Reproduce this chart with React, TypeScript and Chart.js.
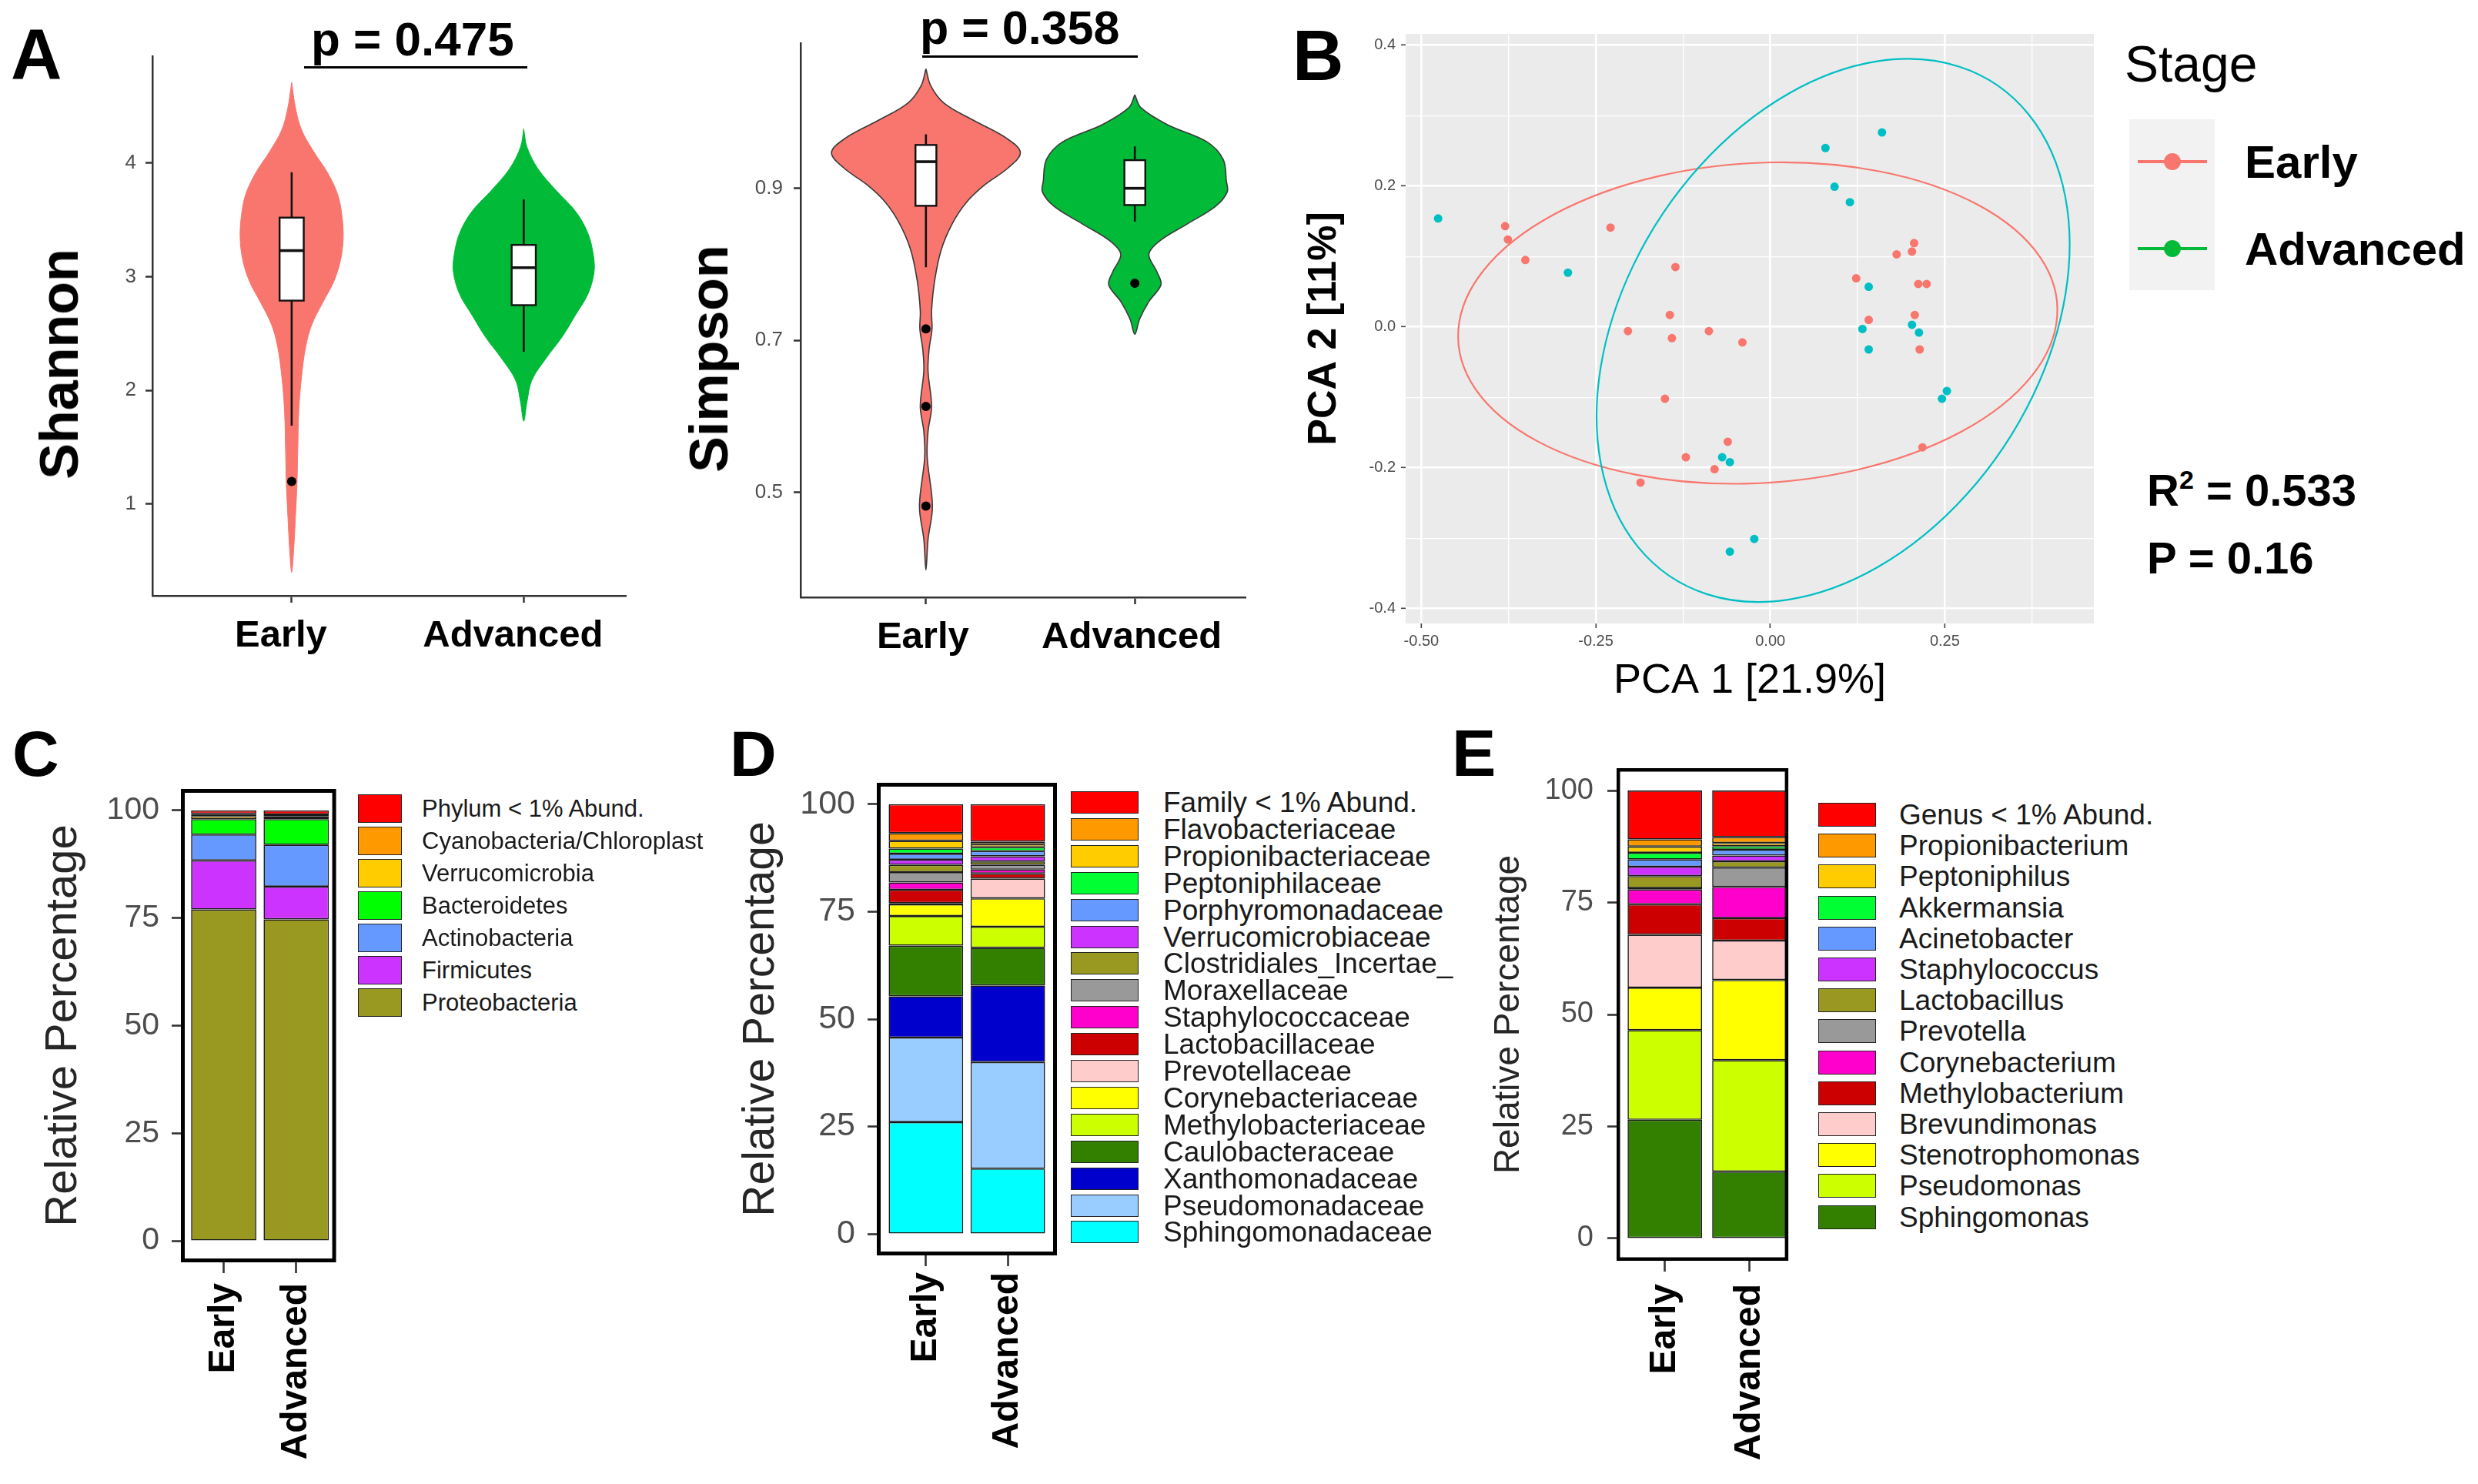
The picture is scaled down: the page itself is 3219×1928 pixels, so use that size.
import React, { useEffect, useRef } from 'react';
import { Chart, registerables } from 'chart.js';

Chart.register(...registerables);

const FONT = "'Liberation Sans', Arial, Helvetica, sans-serif";
Chart.defaults.font.family = FONT;

// ---------------- data: panel A ----------------
const groups = ['Early', 'Advanced'];
const groupColors = ['#F8766D', '#00BA38'];

const shannonEarlyY = [4.71, 4.48, 4.29, 4.1, 3.91, 3.72, 3.53, 3.34, 3.15, 2.96, 2.77, 2.58, 2.39, 2.13, 1.83, 1.45, 1.18, 0.88, 0.61, 0.4];
const shannonEarlyW = [0, 0.017, 0.043, 0.095, 0.156, 0.199, 0.217, 0.222, 0.211, 0.182, 0.133, 0.087, 0.061, 0.043, 0.031, 0.026, 0.023, 0.016, 0.009, 0];
const shannonAdvY = [4.3, 4.14, 3.95, 3.76, 3.57, 3.38, 3.19, 3.04, 2.85, 2.66, 2.47, 2.28, 2.09, 1.9, 1.73];
const shannonAdvW = [0, 0.014, 0.061, 0.139, 0.225, 0.277, 0.3, 0.303, 0.277, 0.222, 0.165, 0.095, 0.035, 0.014, 0];
const shannonWhiskerLow = [1.69, 2.34];
const shannonQ1 = [2.79, 2.75];
const shannonMedian = [3.23, 3.08];
const shannonQ3 = [3.52, 3.28];
const shannonWhiskerHigh = [3.92, 3.68];
const shannonOutliers = [[1.2], []];
const shannonTicks = [1, 2, 3, 4];

const simpsonEarlyY = [1.057, 1.035, 1.012, 0.989, 0.966, 0.947, 0.927, 0.904, 0.881, 0.853, 0.819, 0.779, 0.739, 0.715, 0.688, 0.66, 0.613, 0.58, 0.546, 0.482, 0.438, 0.398];
const simpsonEarlyW = [0, 0.023, 0.087, 0.231, 0.385, 0.452, 0.394, 0.279, 0.192, 0.125, 0.073, 0.042, 0.027, 0.029, 0.015, 0.01, 0.027, 0.01, 0.006, 0.031, 0.01, 0];
const simpsonAdvY = [1.023, 1.006, 0.984, 0.961, 0.938, 0.91, 0.895, 0.876, 0.853, 0.83, 0.813, 0.79, 0.773, 0.751, 0.728, 0.708];
const simpsonAdvW = [0, 0.029, 0.154, 0.346, 0.423, 0.438, 0.442, 0.385, 0.25, 0.115, 0.067, 0.106, 0.125, 0.067, 0.023, 0];
const simpsonWhiskerLow = [0.796, 0.856];
const simpsonQ1 = [0.877, 0.878];
const simpsonMedian = [0.935, 0.9];
const simpsonQ3 = [0.957, 0.937];
const simpsonWhiskerHigh = [0.971, 0.955];
const simpsonOutliers = [[0.715, 0.613, 0.482], [0.775]];
const simpsonTicks = [0.5, 0.7, 0.9];

// ---------------- data: panel B ----------------
const pcaEarlyX = [-0.38, -0.376, -0.351, -0.229, -0.136, -0.144, -0.204, -0.141, -0.088, -0.04, -0.151, -0.121, -0.061, -0.08, -0.186, 0.123, 0.141, 0.181, 0.203, 0.206, 0.212, 0.224, 0.207, 0.214, 0.218];
const pcaEarlyY = [0.143, 0.124, 0.095, 0.141, 0.085, 0.017, -0.006, -0.016, -0.006, -0.022, -0.102, -0.185, -0.163, -0.202, -0.221, 0.069, 0.01, 0.103, 0.107, 0.119, 0.061, 0.061, 0.017, -0.032, -0.171];
const pcaAdvX = [-0.476, -0.29, 0.079, 0.16, 0.092, 0.114, 0.141, 0.132, 0.141, 0.203, 0.213, 0.246, 0.253, -0.069, -0.058, -0.023, -0.058];
const pcaAdvY = [0.154, 0.077, 0.254, 0.276, 0.199, 0.177, 0.057, -0.003, -0.032, 0.003, -0.008, -0.102, -0.091, -0.185, -0.192, -0.301, -0.319];
const pcaColors = ['#F8766D', '#00BFC4'];
const stageLegendColors = ['#F8766D', '#00BA38'];
// confidence ellipses: centre and two conjugate semi-axes (data units)
const ellipseCX = [-0.018, 0.09];
const ellipseCY = [0.0055, -0.005];
const ellipseU = [[0.429, 0.0095], [0.063, 0.382]];
const ellipseV = [[0.017, 0.228], [0.333, 0.052]];
const pcaXMajor = [-0.5, -0.25, 0, 0.25];
const pcaXMinor = [-0.375, -0.125, 0.125, 0.375];
const pcaYMajor = [-0.4, -0.2, 0, 0.2, 0.4];
const pcaYMinor = [-0.3, -0.1, 0.1, 0.3];

// ---------------- data: panels C, D, E (legend order, top of stack first) ----------------
const phylumTaxa = ['Phylum < 1% Abund.', 'Cyanobacteria/Chloroplast', 'Verrucomicrobia', 'Bacteroidetes', 'Actinobacteria', 'Firmicutes', 'Proteobacteria'];
const phylumEarly = [0.8, 0.5, 0.7, 3.6, 6.0, 11.4, 77.0];
const phylumAdvanced = [0.9, 0.5, 0.6, 6.0, 9.7, 7.6, 74.7];
const phylumColors = ['#FF0000', '#FF9900', '#FFCC00', '#00FF00', '#6699FF', '#CC33FF', '#999922'];

const familyTaxa = ['Family < 1% Abund.', 'Flavobacteriaceae', 'Propionibacteriaceae', 'Peptoniphilaceae', 'Porphyromonadaceae', 'Verrucomicrobiaceae', 'Clostridiales_Incertae_', 'Moraxellaceae', 'Staphylococcaceae', 'Lactobacillaceae', 'Prevotellaceae', 'Corynebacteriaceae', 'Methylobacteriaceae', 'Caulobacteraceae', 'Xanthomonadaceae', 'Pseudomonadaceae', 'Sphingomonadaceae'];
const familyEarly = [6.7, 1.8, 1.8, 1.2, 1.4, 1.2, 1.7, 2.4, 1.7, 3.1, 0.3, 2.7, 6.9, 11.8, 9.6, 19.7, 26.0];
const familyAdvanced = [8.7, 0.6, 0.7, 0.9, 1.2, 1.2, 0.8, 1.1, 0.9, 1.2, 4.6, 6.6, 4.9, 8.8, 17.8, 24.8, 15.2];
const familyColors = ['#FF0000', '#FF9900', '#FFCC00', '#00FF33', '#6699FF', '#CC33FF', '#999922', '#999999', '#FF00CC', '#CC0000', '#FFCCCC', '#FFFF00', '#CCFF00', '#338000', '#0000CC', '#99CCFF', '#00FFFF'];

const genusTaxa = ['Genus < 1% Abund.', 'Propionibacterium', 'Peptoniphilus', 'Akkermansia', 'Acinetobacter', 'Staphylococcus', 'Lactobacillus', 'Prevotella', 'Corynebacterium', 'Methylobacterium', 'Brevundimonas', 'Stenotrophomonas', 'Pseudomonas', 'Sphingomonas'];
const genusEarly = [10.9, 1.6, 1.4, 1.5, 1.6, 2.1, 2.7, 0.3, 3.3, 6.8, 11.8, 9.5, 20.0, 26.5];
const genusAdvanced = [10.4, 1.3, 0.7, 0.8, 1.3, 1.3, 1.4, 4.3, 7.0, 5.0, 8.8, 17.9, 24.9, 14.9];
const genusColors = ['#FF0000', '#FF9900', '#FFCC00', '#00FF33', '#6699FF', '#CC33FF', '#999922', '#999999', '#FF00CC', '#CC0000', '#FFCCCC', '#FFFF00', '#CCFF00', '#338000'];

const percentTicks = [0, 25, 50, 75, 100];

// ---------------- helpers ----------------
function violinPath(center: number, ys: number[], ws: number[]) {
  const pts = ys.map((y, i) => ({ x: center + ws[i], y }));
  for (let i = ys.length - 2; i >= 1; i--) pts.push({ x: center - ws[i], y: ys[i] });
  pts.push({ x: center + ws[0], y: ys[0] });
  return pts;
}

function ChartBox({ left, top, width, height, config }: any) {
  const ref = useRef<HTMLCanvasElement | null>(null);
  useEffect(() => {
    if (!ref.current) return;
    const chart = new Chart(ref.current, config());
    return () => chart.destroy();
  }, []);
  return (
    <canvas
      ref={ref}
      width={width}
      height={height}
      style={{ position: 'absolute', left, top, width, height }}
    />
  );
}

function violinConfig(s: any) {
  const outlierData = s.outliers.flatMap((arr: number[], i: number) => arr.map((v) => ({ x: i + 1, y: v })));
  const datasets: any[] = [
    { data: outlierData, pointRadius: 6, pointHoverRadius: 6, backgroundColor: '#000', borderWidth: 0 },
  ];
  s.ys.forEach((ys: number[], i: number) => {
    datasets.push({
      data: violinPath(i + 1, ys, s.ws[i]),
      showLine: true,
      fill: 'shape',
      backgroundColor: groupColors[i],
      borderColor: s.outline || groupColors[i],
      borderWidth: s.outline ? 1.6 : 1,
      tension: 0.35,
      pointRadius: 0,
      pointHoverRadius: 0,
    });
  });
  const boxPlugin = {
    id: 'boxes',
    afterDatasetsDraw(chart: any) {
      const { ctx, scales } = chart;
      const x = scales.x;
      const y = scales.y;
      ctx.save();
      ctx.strokeStyle = '#111';
      s.q1.forEach((q1: number, i: number) => {
        const cx = x.getPixelForValue(i + 1);
        const xl = x.getPixelForValue(i + 1 - s.boxHalf);
        const xr = x.getPixelForValue(i + 1 + s.boxHalf);
        const yq1 = y.getPixelForValue(q1);
        const yq3 = y.getPixelForValue(s.q3[i]);
        ctx.lineWidth = 2.6;
        ctx.beginPath();
        ctx.moveTo(cx, y.getPixelForValue(s.hi[i]));
        ctx.lineTo(cx, yq3);
        ctx.moveTo(cx, yq1);
        ctx.lineTo(cx, y.getPixelForValue(s.lo[i]));
        ctx.stroke();
        ctx.fillStyle = '#fff';
        ctx.fillRect(xl, yq3, xr - xl, yq1 - yq3);
        ctx.lineWidth = 2.4;
        ctx.strokeRect(xl, yq3, xr - xl, yq1 - yq3);
        ctx.lineWidth = 3.6;
        const ym = y.getPixelForValue(s.med[i]);
        ctx.beginPath();
        ctx.moveTo(xl, ym);
        ctx.lineTo(xr, ym);
        ctx.stroke();
      });
      ctx.restore();
    },
  };
  return {
    type: 'scatter',
    data: { datasets },
    options: {
      animation: false,
      responsive: false,
      devicePixelRatio: 1,
      events: [],
      layout: { padding: { top: s.pad.top, right: s.pad.right, left: 0, bottom: 0 } },
      plugins: { legend: { display: false }, tooltip: { enabled: false } },
      scales: {
        x: {
          type: 'linear',
          min: s.xMin,
          max: s.xMax,
          afterFit: (sc: any) => { sc.height = s.xHeight; },
          afterBuildTicks: (sc: any) => { sc.ticks = [1, 2].map((v) => ({ value: v })); },
          ticks: {
            autoSkip: false,
            maxRotation: 0,
            callback: (v: number) => groups[v - 1] ?? '',
            font: { size: 49, weight: 'bold' },
            color: '#000',
            padding: s.xPadding,
            labelOffset: s.labelOffset,
          },
          grid: { drawOnChartArea: false, tickLength: 9, tickColor: '#333', tickWidth: 2.5 },
          border: { display: true, color: '#333', width: 2.5 },
        },
        y: {
          type: 'linear',
          min: s.yMin,
          max: s.yMax,
          afterFit: (sc: any) => { sc.width = s.yWidth; },
          afterBuildTicks: (sc: any) => { sc.ticks = s.yTicks.map((v: number) => ({ value: v })); },
          ticks: {
            callback: (v: number) => v.toFixed(s.yDecimals),
            font: { size: 26 },
            color: '#4D4D4D',
            padding: s.yPadding,
          },
          grid: { drawOnChartArea: false, tickLength: 9, tickColor: '#333', tickWidth: 2.5 },
          border: { display: true, color: '#333', width: 2.5 },
        },
      },
    },
    plugins: [boxPlugin],
  };
}

const shannonSpec = {
  ys: [shannonEarlyY, shannonAdvY], ws: [shannonEarlyW, shannonAdvW], outline: null,
  lo: shannonWhiskerLow, q1: shannonQ1, med: shannonMedian, q3: shannonQ3, hi: shannonWhiskerHigh, outliers: shannonOutliers,
  boxHalf: 0.052, xMin: 0.4, xMax: 2.44, yMin: 0.194, yMax: 4.94, yTicks: shannonTicks, yDecimals: 0,
  pad: { top: 73, right: 17 }, yWidth: 198, xHeight: 106, labelOffset: -14, xPadding: 14, yPadding: 12,
};
const simpsonSpec = {
  ys: [simpsonEarlyY, simpsonAdvY], ws: [simpsonEarlyW, simpsonAdvW], outline: '#3a3a3a',
  lo: simpsonWhiskerLow, q1: simpsonQ1, med: simpsonMedian, q3: simpsonQ3, hi: simpsonWhiskerHigh, outliers: simpsonOutliers,
  boxHalf: 0.05, xMin: 0.4, xMax: 2.53, yMin: 0.362, yMax: 1.091, yTicks: simpsonTicks, yDecimals: 1,
  pad: { top: 56, right: 12 }, yWidth: 210, xHeight: 104, labelOffset: -4, xPadding: 14, yPadding: 14,
};

function pcaConfig() {
  const isMajorX = (v: number) => pcaXMajor.some((m) => Math.abs(m - v) < 1e-9);
  const isMajorY = (v: number) => pcaYMajor.some((m) => Math.abs(m - v) < 1e-9);
  const bgPlugin = {
    id: 'panelBg',
    beforeDraw(chart: any) {
      const { ctx, chartArea: a } = chart;
      ctx.save();
      ctx.fillStyle = '#EBEBEB';
      ctx.fillRect(a.left, a.top, a.right - a.left, a.bottom - a.top);
      ctx.restore();
    },
    beforeDatasetsDraw(chart: any) {
      const { ctx, scales: { x, y } } = chart;
      ctx.save();
      ellipseCX.forEach((cxv, i) => {
        const cx = x.getPixelForValue(cxv);
        const cy = y.getPixelForValue(ellipseCY[i]);
        const ux = x.getPixelForValue(cxv + ellipseU[i][0]) - cx;
        const uy = y.getPixelForValue(ellipseCY[i] + ellipseU[i][1]) - cy;
        const vx = x.getPixelForValue(cxv + ellipseV[i][0]) - cx;
        const vy = y.getPixelForValue(ellipseCY[i] + ellipseV[i][1]) - cy;
        ctx.save();
        ctx.transform(ux, uy, vx, vy, cx, cy);
        ctx.beginPath();
        ctx.arc(0, 0, 1, 0, Math.PI * 2);
        ctx.restore();
        ctx.strokeStyle = pcaColors[i];
        ctx.lineWidth = 2.2;
        ctx.stroke();
      });
      ctx.restore();
    },
  };
  const mk = (xs: number[], ys: number[]) => xs.map((v, i) => ({ x: v, y: ys[i] }));
  return {
    type: 'scatter',
    data: {
      datasets: [
        { label: 'Early', data: mk(pcaEarlyX, pcaEarlyY), backgroundColor: pcaColors[0], borderWidth: 0, pointRadius: 5.5 },
        { label: 'Advanced', data: mk(pcaAdvX, pcaAdvY), backgroundColor: pcaColors[1], borderWidth: 0, pointRadius: 5.5 },
      ],
    },
    options: {
      animation: false,
      responsive: false,
      devicePixelRatio: 1,
      events: [],
      layout: { padding: { top: 44, right: 30, left: 0, bottom: 0 } },
      plugins: { legend: { display: false }, tooltip: { enabled: false } },
      scales: {
        x: {
          type: 'linear',
          min: -0.5225,
          max: 0.4636,
          afterFit: (sc: any) => { sc.height = 110; },
          afterBuildTicks: (sc: any) => { sc.ticks = [...pcaXMajor, ...pcaXMinor].sort((a, b) => a - b).map((v) => ({ value: v })); },
          ticks: {
            autoSkip: false,
            maxRotation: 0,
            callback: (v: number) => (isMajorX(v) ? v.toFixed(2) : ''),
            font: { size: 20 },
            color: '#4D4D4D',
            padding: 5,
          },
          grid: {
            color: '#FFFFFF',
            lineWidth: (c: any) => (c.tick && isMajorX(c.tick.value) ? 2.6 : 1.3),
            tickColor: (c: any) => (c.tick && isMajorX(c.tick.value) ? '#444' : 'rgba(0,0,0,0)'),
            tickLength: 6,
            tickWidth: 1.6,
          },
          border: { display: false },
          title: { display: true, text: 'PCA 1 [21.9%]', font: { size: 54 }, color: '#000', padding: { top: 0, bottom: 2 } },
        },
        y: {
          type: 'linear',
          min: -0.421,
          max: 0.416,
          afterFit: (sc: any) => { sc.width = 186; },
          afterBuildTicks: (sc: any) => { sc.ticks = [...pcaYMajor, ...pcaYMinor].sort((a, b) => a - b).map((v) => ({ value: v })); },
          ticks: {
            autoSkip: false,
            callback: (v: number) => (isMajorY(v) ? v.toFixed(1) : ''),
            font: { size: 20 },
            color: '#4D4D4D',
            padding: 7,
          },
          grid: {
            color: '#FFFFFF',
            lineWidth: (c: any) => (c.tick && isMajorY(c.tick.value) ? 2.6 : 1.3),
            tickColor: (c: any) => (c.tick && isMajorY(c.tick.value) ? '#444' : 'rgba(0,0,0,0)'),
            tickLength: 6,
            tickWidth: 1.6,
          },
          border: { display: false },
          title: { display: true, text: 'PCA 2 [11%]', font: { size: 52, weight: 'bold' }, color: '#000', padding: { top: 49, bottom: 0 } },
        },
      },
    },
    plugins: [bgPlugin],
  };
}

function barConfig(b: any) {
  const datasets: any[] = [];
  for (let i = b.taxa.length - 1; i >= 0; i--) {
    datasets.push({
      label: b.taxa[i],
      data: [{ x: 1, y: b.early[i] }, { x: 2, y: b.adv[i] }],
      backgroundColor: b.colors[i],
      borderColor: '#1a1a1a',
      borderWidth: 1.6,
      borderSkipped: false,
      barPercentage: b.barFrac,
      categoryPercentage: 1,
    });
  }
  const frame = {
    id: 'frame',
    afterDatasetsDraw(chart: any) {
      const { ctx, chartArea: a } = chart;
      ctx.save();
      ctx.strokeStyle = '#000';
      ctx.lineWidth = b.frameWidth;
      const h = b.frameWidth / 2;
      ctx.strokeRect(a.left + h, a.top + h, a.right - a.left - 2 * h, a.bottom - a.top - 2 * h);
      ctx.restore();
    },
  };
  return {
    type: 'bar',
    data: { datasets },
    options: {
      animation: false,
      responsive: false,
      devicePixelRatio: 1,
      events: [],
      layout: { padding: { top: b.padTop, right: b.padRight, left: 0, bottom: 0 } },
      plugins: { legend: { display: false }, tooltip: { enabled: false } },
      scales: {
        x: {
          type: 'linear',
          stacked: true,
          offset: false,
          min: b.xMin,
          max: b.xMax,
          afterFit: (sc: any) => { sc.height = b.xHeight; },
          afterBuildTicks: (sc: any) => { sc.ticks = [1, 2].map((v) => ({ value: v })); },
          ticks: {
            autoSkip: false,
            minRotation: 90,
            maxRotation: 90,
            callback: (v: number) => groups[v - 1] ?? '',
            font: { size: 48, weight: 'bold' },
            color: '#000',
            padding: b.xPadding,
          },
          grid: { offset: false, drawOnChartArea: false, tickLength: 14, tickColor: '#333', tickWidth: 2.6 },
          border: { display: false },
        },
        y: {
          type: 'linear',
          stacked: true,
          min: -5,
          max: 105,
          afterFit: (sc: any) => { sc.width = b.yWidth; },
          afterBuildTicks: (sc: any) => { sc.ticks = percentTicks.map((v) => ({ value: v })); },
          ticks: { font: { size: b.tickSize }, color: '#4D4D4D', padding: b.yPadding },
          grid: { drawOnChartArea: false, tickLength: 12, tickColor: '#333', tickWidth: 2.6 },
          border: { display: false },
          title: {
            display: true,
            text: 'Relative Percentage',
            font: { size: b.titleSize },
            color: '#262626',
            padding: { top: b.titlePad, bottom: 0 },
          },
        },
      },
    },
    plugins: [frame],
  };
}

const phylumSpec = {
  taxa: phylumTaxa, early: phylumEarly, adv: phylumAdvanced, colors: phylumColors,
  xMin: 0.41, xMax: 2.55, barFrac: 0.9, padTop: 125, padRight: 18, yWidth: 235, xHeight: 288,
  xPadding: 13, yPadding: 16, tickSize: 41, titleSize: 58, titlePad: 48, frameWidth: 5,
};
const familySpec = {
  taxa: familyTaxa, early: familyEarly, adv: familyAdvanced, colors: familyColors,
  xMin: 0.4, xMax: 2.6, barFrac: 0.91, padTop: 117, padRight: 7, yWidth: 239, xHeight: 297,
  xPadding: 8, yPadding: 16, tickSize: 43, titleSize: 57, titlePad: 55, frameWidth: 5,
};
const genusSpec = {
  taxa: genusTaxa, early: genusEarly, adv: genusAdvanced, colors: genusColors,
  xMin: 0.43, xMax: 2.46, barFrac: 0.88, padTop: 98, padRight: 17, yWidth: 220, xHeight: 290,
  xPadding: 16, yPadding: 18, tickSize: 38, titleSize: 46, titlePad: 53, frameWidth: 4.5,
};

// ---------------- HTML text helpers ----------------
function Txt({ x, y, size, bold, children, color = '#000' }: any) {
  return (
    <div
      style={{
        position: 'absolute', left: x, top: y, fontSize: size, lineHeight: `${size}px`,
        fontWeight: bold ? 700 : 400, fontFamily: FONT, color, whiteSpace: 'nowrap',
      }}
    >
      {children}
    </div>
  );
}

function VTxt({ cx, cy, size, bold, children }: any) {
  return (
    <div
      style={{
        position: 'absolute', left: cx, top: cy, fontSize: size, lineHeight: `${size}px`,
        fontWeight: bold ? 700 : 400, fontFamily: FONT, color: '#000', whiteSpace: 'nowrap',
        transform: 'translate(-50%, -50%) rotate(-90deg)',
      }}
    >
      {children}
    </div>
  );
}

function BarLegend({ taxa, colors, kx, ky, kw, kh, sp, tx, size }: any) {
  return (
    <>
      {taxa.map((t: string, i: number) => {
        const top = ky + i * sp;
        return (
          <React.Fragment key={t}>
            <div
              style={{
                position: 'absolute', left: kx, top, width: kw, height: kh, background: colors[i],
                border: '1.5px solid #222', boxSizing: 'border-box',
              }}
            />
            <div
              style={{
                position: 'absolute', left: tx, top: top + kh / 2 - size / 2, fontSize: size,
                lineHeight: `${size}px`, fontFamily: FONT, color: '#1a1a1a', whiteSpace: 'nowrap',
              }}
            >
              {t}
            </div>
          </React.Fragment>
        );
      })}
    </>
  );
}

export default function App() {
  const stageRowsY = [210, 323];
  return (
    <div style={{ position: 'fixed', left: 0, top: 0, width: 3219, height: 1928, background: '#fff', overflow: 'hidden' }}>
      <ChartBox left={0} top={0} width={830} height={880} config={() => violinConfig(shannonSpec)} />
      <ChartBox left={830} top={0} width={800} height={880} config={() => violinConfig(simpsonSpec)} />
      <ChartBox left={1640} top={0} width={1110} height={920} config={pcaConfig} />
      <ChartBox left={0} top={900} width={460} height={1028} config={() => barConfig(phylumSpec)} />
      <ChartBox left={900} top={900} width={480} height={1028} config={() => barConfig(familySpec)} />
      <ChartBox left={1880} top={900} width={470} height={1028} config={() => barConfig(genusSpec)} />

      {/* panel letters */}
      <Txt x={14} y={24} size={92} bold>A</Txt>
      <Txt x={1679} y={26} size={92} bold>B</Txt>
      <Txt x={16} y={937} size={84} bold>C</Txt>
      <Txt x={948} y={937} size={84} bold>D</Txt>
      <Txt x={1886} y={935} size={86} bold>E</Txt>

      {/* panel A annotations */}
      <VTxt cx={77} cy={473} size={70} bold>Shannon</VTxt>
      <VTxt cx={921} cy={466} size={70} bold>Simpson</VTxt>
      <Txt x={404} y={20} size={62} bold>p = 0.475</Txt>
      <div style={{ position: 'absolute', left: 395, top: 86, width: 290, height: 2.5, background: '#000' }} />
      <Txt x={1195} y={6} size={61} bold>p = 0.358</Txt>
      <div style={{ position: 'absolute', left: 1198, top: 72, width: 280, height: 2.5, background: '#000' }} />

      {/* panel B legend and statistics */}
      <Txt x={2760} y={50} size={66}>Stage</Txt>
      <div style={{ position: 'absolute', left: 2766, top: 155, width: 111, height: 222, background: '#F2F2F2' }} />
      {groups.map((g, i) => (
        <React.Fragment key={g}>
          <div style={{ position: 'absolute', left: 2777, top: stageRowsY[i] - 2, width: 90, height: 4, background: stageLegendColors[i] }} />
          <div style={{ position: 'absolute', left: 2811, top: stageRowsY[i] - 11, width: 22, height: 22, borderRadius: '50%', background: stageLegendColors[i] }} />
          <Txt x={2916} y={stageRowsY[i] - 29} size={60} bold>{g}</Txt>
        </React.Fragment>
      ))}
      <Txt x={2789} y={608} size={58} bold>
        R<span style={{ fontSize: 34, position: 'relative', top: -22 }}>2</span> = 0.533
      </Txt>
      <Txt x={2789} y={696} size={58} bold>P = 0.16</Txt>

      {/* legends C, D, E */}
      <BarLegend taxa={phylumTaxa} colors={phylumColors} kx={465} ky={1032} kw={57} kh={37} sp={42} tx={548} size={31} />
      <BarLegend taxa={familyTaxa} colors={familyColors} kx={1391} ky={1028} kw={88} kh={29} sp={34.9} tx={1511} size={37} />
      <BarLegend taxa={genusTaxa} colors={genusColors} kx={2362} ky={1043} kw={75} kh={31} sp={40.2} tx={2467} size={37} />
    </div>
  );
}
